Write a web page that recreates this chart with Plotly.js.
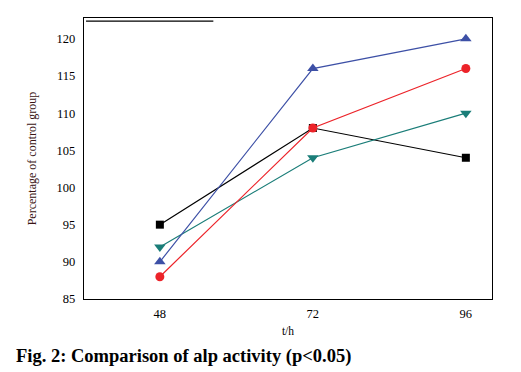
<!DOCTYPE html>
<html>
<head>
<meta charset="utf-8">
<script src="https://cdn.plot.ly/plotly-3.0.1.min.js"></script>
<style>html,body{margin:0;padding:0;background:#fff;}#chart{width:521px;height:372px;}</style>
</head>
<body>
<div id="chart"></div>
<script>
const hours = [48, 72, 96];
const seriesBlack = [95, 108, 104];
const seriesRed = [88, 108, 116];
const seriesBlue = [90, 116, 120];
const seriesTeal = [92, 104, 110];
const yTicks = [85, 90, 95, 100, 105, 110, 115, 120];

function tr(y, color, symbol, size) {
  return {
    x: hours, y: y, type: 'scatter', mode: 'lines+markers',
    line: {color: color, width: 1.2},
    marker: {color: color, symbol: symbol, size: size},
    showlegend: false, cliponaxis: false
  };
}
const data = [
  tr(seriesBlack, '#000000', 'square', 8),
  tr(seriesTeal, '#1a7d78', 'triangle-down', 10),
  tr(seriesBlue, '#3d50a6', 'triangle-up', 10),
  tr(seriesRed, '#ec2329', 'circle', 9)
];
const FAM = 'Liberation Serif';
const font = {family: FAM, color: '#000', size: 12};
const layout = {
  width: 521, height: 372,
  margin: {l: 84, r: 29, t: 18, b: 73},
  paper_bgcolor: '#fff', plot_bgcolor: '#fff',
  font: font,
  xaxis: {
    range: [36.1, 100.1], tickvals: hours, ticktext: hours.map(String),
    tickfont: {family: FAM, size: 12.5, color: '#000'},
    showgrid: false, zeroline: false, showline: true, mirror: true,
    linecolor: '#000', linewidth: 1.3, ticks: '', ticklabelstandoff: 3,
    title: {text: 't/h', font: {family: FAM, size: 11.5, color: '#000'}, standoff: 6}
  },
  yaxis: {
    range: [85, 122.8], tickvals: yTicks,
    tickfont: {family: FAM, size: 12.5, color: '#000'},
    showgrid: false, zeroline: false, showline: true, mirror: true,
    linecolor: '#000', linewidth: 1.3, ticks: '', ticklabelstandoff: 5,
    title: {text: 'Percentage of control group', font: {family: FAM, size: 12, color: '#3a1414'}, standoff: 17}
  },
  shapes: [
    {type: 'line', xref: 'paper', yref: 'paper', x0: 0.005, x1: 0.317, y0: 0.989, y1: 0.989,
     line: {color: '#000', width: 1.3}}
  ],
  annotations: [
    {text: 'Fig. 2: Comparison of alp activity (p<0.05)', xref: 'paper', yref: 'paper',
     x: -0.171, y: -0.16, xanchor: 'left', yanchor: 'top', showarrow: false,
     font: {family: FAM, size: 18.5, color: '#000', weight: 'bold'}}
  ]
};
Plotly.newPlot('chart', data, layout, {displayModeBar: false, staticPlot: true});
</script>
</body>
</html>
